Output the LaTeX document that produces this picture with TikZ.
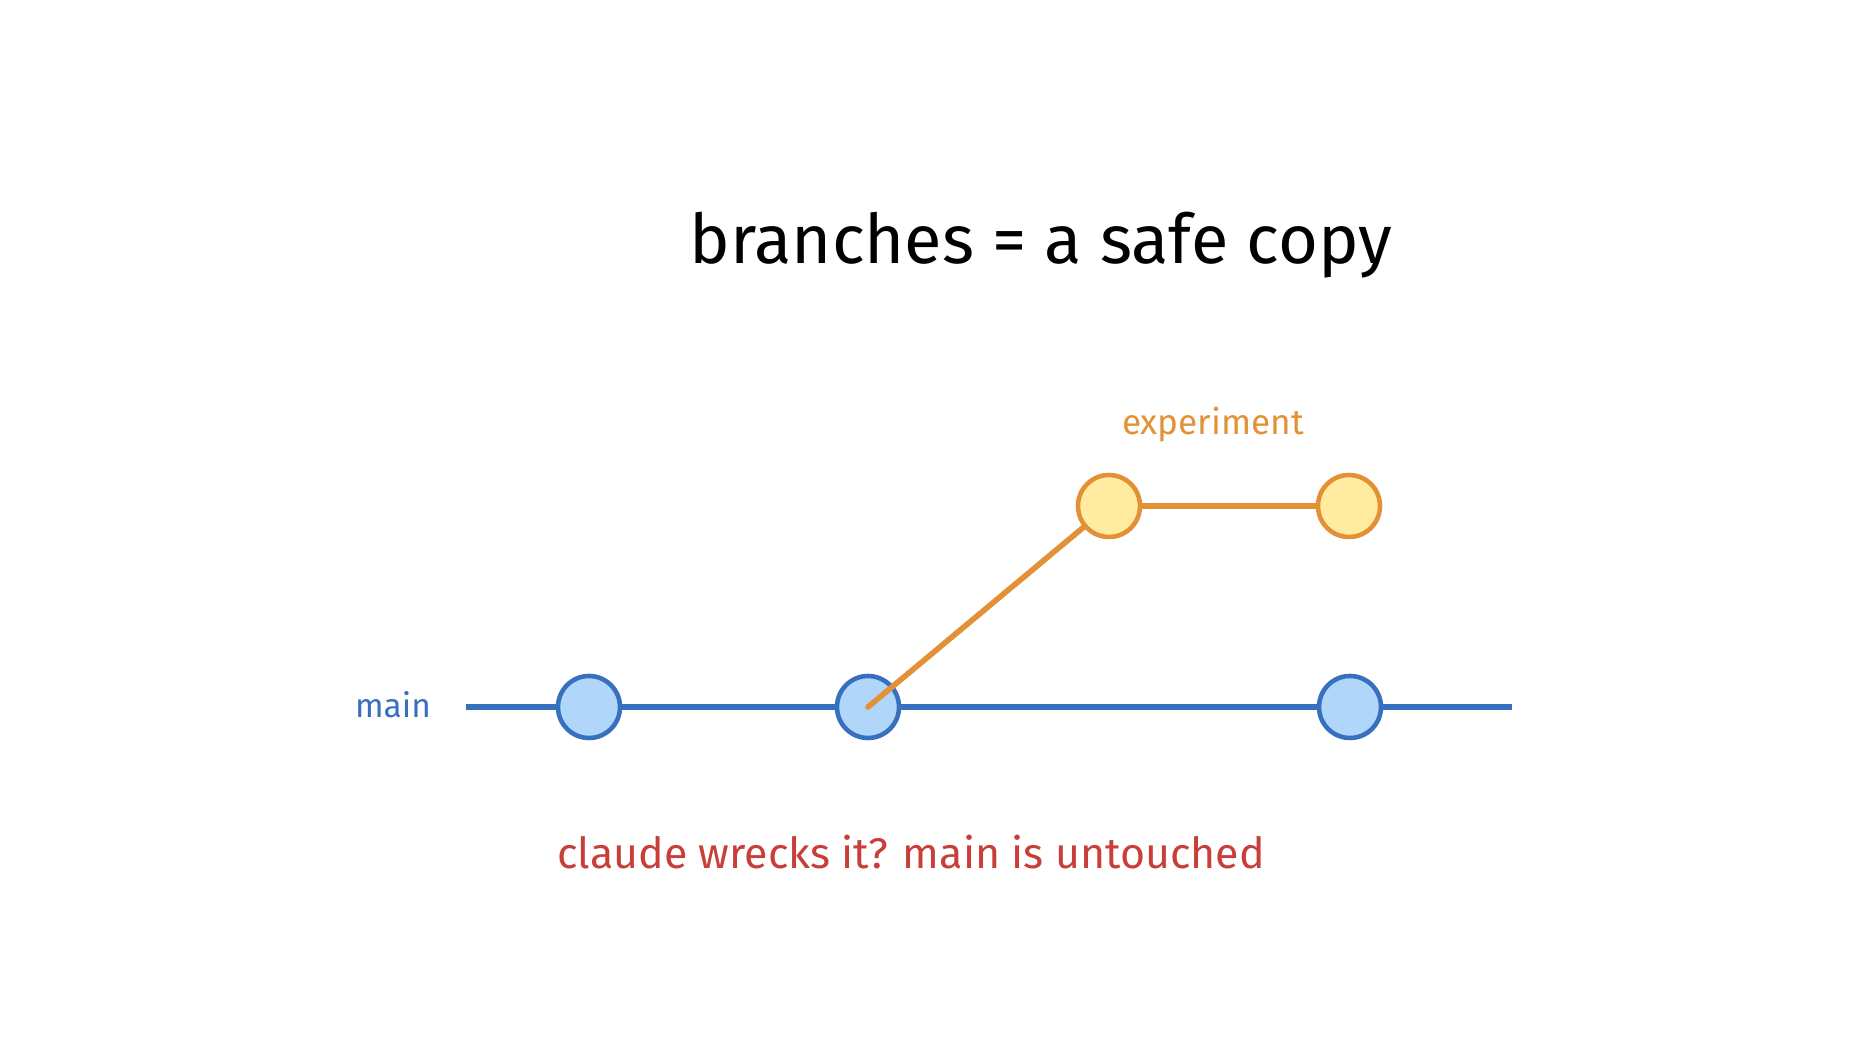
\documentclass[tikz,border=0pt]{standalone}
\usepackage{fontspec}
\setmainfont{Fira Sans}
\definecolor{mainblue}{RGB}{54,112,190}
\definecolor{mainfill}{RGB}{176,214,250}
\definecolor{exporange}{RGB}{226,145,54}
\definecolor{expfill}{RGB}{255,236,160}
\definecolor{notered}{RGB}{200,62,56}

\begin{document}
\begin{tikzpicture}[
    maincommit/.style={shape=circle,draw=mainblue,fill=mainfill,line width=1.3pt,minimum size=0.62cm,inner sep=0pt},
    expcommit/.style={shape=circle,draw=exporange,fill=expfill,line width=1.3pt,minimum size=0.62cm,inner sep=0pt}]
    \useasboundingbox (0,0) rectangle (18.56,-10.46);

    \node (title) at (10.41,-2.45) {\fontsize{19.5}{23}\selectfont branches = a safe copy};

    \coordinate (mstart) at (4.66,-7.07);
    \coordinate (mend) at (15.12,-7.07);
    \node[text=mainblue] (mainlabel) at (3.93,-7.05) {\fontsize{9.5}{12}\selectfont main};

    \node[maincommit] (b1) at (5.89,-7.07) {};
    \node[maincommit] (b2) at (8.68,-7.07) {};
    \node[maincommit] (b3) at (13.50,-7.07) {};

    \node[expcommit] (y1) at (11.09,-5.06) {};
    \node[expcommit] (y2) at (13.49,-5.06) {};
    \node[text=exporange] (explabel) at (12.13,-4.25) {\fontsize{10}{12}\selectfont experiment};

    \path [draw=mainblue,line width=1.8pt] (mstart) -- (b1);
    \path [draw=mainblue,line width=1.8pt] (b1) -- (b2);
    \path [draw=mainblue,line width=1.8pt] (b2) -- (b3);
    \path [draw=mainblue,line width=1.8pt] (b3) -- (mend);

    \path [draw=exporange,line width=1.6pt,line cap=round] (b2.center) -- (y1);
    \path [draw=exporange,line width=1.6pt] (y1) -- (y2);

    \node[text=notered] (note) at (9.11,-8.52) {\fontsize{12.2}{15}\selectfont claude wrecks it? main is untouched};
\end{tikzpicture}
\end{document}
